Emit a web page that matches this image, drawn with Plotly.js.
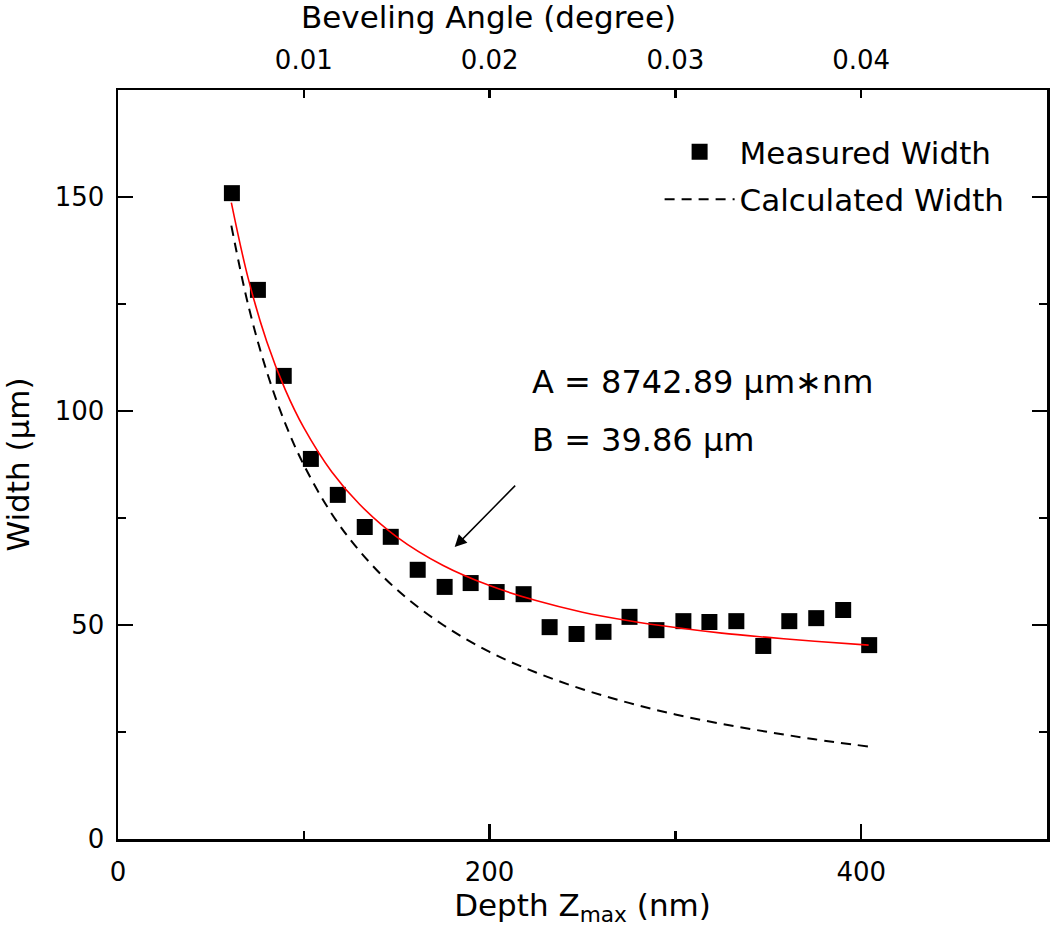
<!DOCTYPE html>
<html>
<head>
<meta charset="utf-8">
<script src="https://cdn.plot.ly/plotly-3.0.1.min.js"></script>
<style>
  html, body { margin: 0; padding: 0; background: #fff; }
  #chart { width: 1050px; height: 933px; }
</style>
</head>
<body>
<div id="chart"></div>
<script>
// measured points (depth in nm, width in um)
let depth_meas = [61.3, 75.3, 89.2, 103.8, 118.3, 132.8, 146.8, 161.3, 175.8, 189.8, 203.8, 218.3, 232.3,
                  246.8, 261.3, 275.3, 289.8, 304.3, 318.3, 332.8, 347.3, 361.3, 375.8, 390.3, 404.3];
let width_meas = [150.9, 128.3, 108.2, 88.8, 80.4, 72.9, 70.6, 62.9, 58.9, 59.8, 57.7, 57.2, 49.5,
                  47.9, 48.4, 51.9, 48.8, 50.9, 50.7, 50.9, 45.1, 50.9, 51.6, 53.5, 45.3];

// curves
let depth_curve = [61, 70, 80, 90, 100, 115, 130, 150, 175, 200, 225, 250, 275, 300, 325, 350, 375, 404];
let width_fit   = [148.7, 131.1, 116.3, 105.0, 96.1, 85.8, 78.2, 70.6, 63.9, 59.2, 55.7, 53.0, 51.0, 49.4, 48.1, 47.1, 46.2, 45.3];
let width_calc  = [143.3, 124.9, 109.3, 97.1, 87.4, 76.0, 67.3, 58.3, 50.0, 43.7, 38.9, 35.0, 31.8, 29.1, 26.9, 25.0, 23.3, 21.6];

// top axis (beveling angle, degree)
let angle_ticks = [0.01, 0.02, 0.03, 0.04];

let fnt = "DejaVu Sans, Liberation Sans, Arial, sans-serif";
let ax_color = "#000000";

let trace_meas = {
  x: depth_meas,
  y: width_meas,
  type: 'scatter',
  mode: 'markers',
  name: 'Measured Width',
  legendgroup: 'a',
  marker: { symbol: 'square', size: 16, color: '#000000', line: { width: 0 } }
};

let trace_calc = {
  x: depth_curve,
  y: width_calc,
  type: 'scatter',
  mode: 'lines',
  name: 'Calculated Width',
  legendgroup: 'b',
  line: { color: '#000000', width: 2, dash: '10px,7px', shape: 'spline' }
};

let trace_fit = {
  x: depth_curve,
  y: width_fit,
  type: 'scatter',
  mode: 'lines',
  name: 'fit',
  showlegend: false,
  line: { color: '#ff0000', width: 1.6, shape: 'spline' }
};

// empty trace so the top axis gets drawn
let trace_top = {
  x: angle_ticks,
  y: angle_ticks.map(function() { return null; }),
  xaxis: 'x2',
  type: 'scatter',
  mode: 'markers',
  showlegend: false,
  hoverinfo: 'skip'
};

let data = [trace_meas, trace_calc, trace_fit, trace_top];

let layout = {
  width: 1050,
  height: 933,
  margin: { l: 118, r: 3, t: 90, b: 94 },
  paper_bgcolor: '#ffffff',
  plot_bgcolor: '#ffffff',
  font: { family: fnt, size: 26, color: ax_color },
  showlegend: true,
  legend: {
    x: 0.583, y: 0.953, xanchor: 'left', yanchor: 'top',
    traceorder: 'grouped',
    tracegroupgap: 4,
    itemwidth: 70,
    font: { family: fnt, size: 31, color: ax_color },
    bgcolor: 'rgba(0,0,0,0)'
  },
  xaxis: {
    range: [0, 500],
    tick0: 0, dtick: 200,
    ticks: 'inside', ticklen: 15, tickwidth: 2.5, tickcolor: ax_color,
    minor: { dtick: 100, ticks: 'inside', ticklen: 8, tickwidth: 2.5, tickcolor: ax_color },
    showline: true, linewidth: 2.5, linecolor: ax_color,
    showgrid: false, zeroline: false,
    ticklabelstandoff: 8,
    tickfont: { family: fnt, size: 26 },
    title: { text: 'Depth Z<sub>max</sub> (nm)', font: { family: fnt, size: 31 }, standoff: 4 },
    automargin: false
  },
  xaxis2: {
    overlaying: 'x', side: 'top', anchor: 'y',
    range: [0, 0.05],
    tickvals: angle_ticks,
    ticks: 'inside', ticklen: 8, tickwidth: 2.5, tickcolor: ax_color,
    showline: true, linewidth: 2.5, linecolor: ax_color,
    showgrid: false, zeroline: false,
    ticklabelstandoff: 8,
    tickfont: { family: fnt, size: 26 },
    automargin: false
  },
  yaxis: {
    range: [0, 175],
    tick0: 0, dtick: 50,
    ticks: 'inside', ticklen: 15, tickwidth: 2.5, tickcolor: ax_color,
    minor: { dtick: 25, ticks: 'inside', ticklen: 8, tickwidth: 2.5, tickcolor: ax_color },
    showline: true, linewidth: 2.5, linecolor: ax_color, mirror: 'ticks',
    showgrid: false, zeroline: false,
    ticklabelstandoff: 6,
    tickfont: { family: fnt, size: 26 },
    title: { text: 'Width (μm)', font: { family: fnt, size: 31 }, standoff: 16 },
    automargin: false
  },
  annotations: [
    { xref: 'paper', yref: 'paper', x: 0.399, y: 1.098, xanchor: 'center', yanchor: 'middle',
      text: 'Beveling Angle (degree)', showarrow: false, font: { family: fnt, size: 31 } },
    { xref: 'x', yref: 'y', x: 221.5, y: 106.8, xanchor: 'left', yanchor: 'middle',
      text: 'A = 8742.89 μm∗nm', showarrow: false, font: { family: fnt, size: 32 } },
    { xref: 'x', yref: 'y', x: 221.5, y: 93.2, xanchor: 'left', yanchor: 'middle',
      text: 'B = 39.86 μm', showarrow: false, font: { family: fnt, size: 32 } },
    { xref: 'x', yref: 'y', x: 181.2, y: 68.2, ax: 62, ay: -63, text: '',
      showarrow: true, arrowhead: 2, arrowsize: 1.6, arrowwidth: 1.5, arrowcolor: '#000000' }
  ]
};

Plotly.newPlot('chart', data, layout, { displayModeBar: false, staticPlot: true });
</script>
</body>
</html>
